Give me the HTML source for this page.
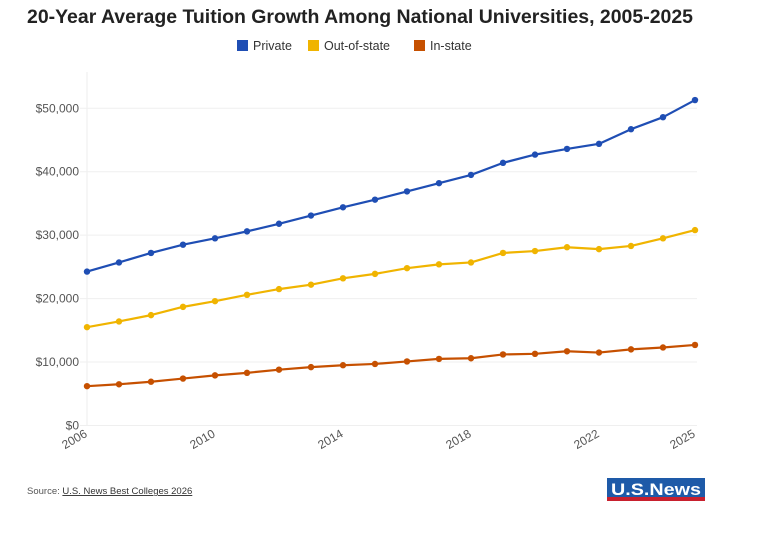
<!DOCTYPE html>
<html><head><meta charset="utf-8"><style>
body{margin:0;background:#fff;font-family:"Liberation Sans",sans-serif;}
svg text{font-family:"Liberation Sans",sans-serif;}
</style></head><body>
<svg id="chart" width="760" height="528" viewBox="0 0 760 528">
<text x="27" y="23" font-size="19" font-weight="bold" fill="#222" textLength="666" lengthAdjust="spacingAndGlyphs">20-Year Average Tuition Growth Among National Universities, 2005-2025</text>
<g>
<g><rect x="237" y="40" width="11" height="11" fill="#1f4eb4"/><text x="253" y="50" font-size="12.5" fill="#333">Private</text></g>
<g><rect x="308" y="40" width="11" height="11" fill="#f0b400"/><text x="324" y="50" font-size="12.5" fill="#333">Out-of-state</text></g>
<g><rect x="414" y="40" width="11" height="11" fill="#c65000"/><text x="430" y="50" font-size="12.5" fill="#333">In-state</text></g>
</g>
<g id="grid"></g><g id="axes"></g><g id="series"></g>
<text x="27" y="494" font-size="9.5" fill="#555">Source: <tspan text-decoration="underline" fill="#333">U.S. News Best Colleges 2026</tspan></text>
<g>
<rect x="607" y="478" width="98" height="19" fill="#1e5aa8"/><rect x="607" y="497" width="98" height="4" fill="#c8202e"/>
<text x="611" y="495" font-size="17" font-weight="bold" fill="#fff" textLength="90" lengthAdjust="spacingAndGlyphs">U.S.News</text>
</g>
</svg>
<script>
const years=[2006,2007,2008,2009,2010,2011,2012,2013,2014,2015,2016,2017,2018,2019,2020,2021,2022,2023,2024,2025];
const privateVals=[24260,25700,27200,28500,29500,30600,31800,33100,34400,35600,36900,38200,39500,41400,42700,43600,44400,46700,48600,51300];
const outStateVals=[15500,16400,17400,18700,19600,20600,21500,22200,23200,23900,24800,25400,25700,27200,27500,28100,27800,28300,29500,30800];
const inStateVals=[6200,6500,6900,7400,7900,8300,8800,9200,9500,9700,10100,10500,10600,11200,11300,11700,11500,12000,12300,12700];
const yTicks=[0,10000,20000,30000,40000,50000];
const xTickYears=[2006,2010,2014,2018,2022,2025];
const NS='http://www.w3.org/2000/svg';
function xS(y){return 87+(y-2006)*(695-87)/19;}
function yS(v){return 425.5-v*(425.5-108.3)/50000;}
function mk(t,a,p){const e=document.createElementNS(NS,t);for(const k in a)e.setAttribute(k,a[k]);p.appendChild(e);return e;}
const grid=document.getElementById('grid'),axes=document.getElementById('axes'),ser=document.getElementById('series');
const vline=mk('line',{x1:87,x2:87,y1:72,y2:426,stroke:'#eee'},grid);


yTicks.forEach(v=>{
 const l=mk('line',{x1:80,x2:697,y1:yS(v),y2:yS(v),stroke:'#efefef'},grid);
 
 
 const t=mk('text',{x:79,y:yS(v)+4,'text-anchor':'end','font-size':12,fill:'#555'},axes);
 t.textContent='$'+v.toLocaleString('en-US');
 
 
});
xTickYears.forEach(yr=>{
 const x=xS(yr)+1,y=436;
 const t=mk('text',{x:x,y:y,'text-anchor':'end','font-size':12,fill:'#555',transform:`rotate(-30 ${x} ${y})`},axes);
 t.textContent=yr;
 
 
});
[[privateVals,'#1f4eb4','private'],[outStateVals,'#f0b400','out-of-state'],[inStateVals,'#c65000','in-state']].forEach(([vals,c,n])=>{
 const g=mk('g',{},ser);
 
 
 const p=mk('polyline',{points:vals.map((v,i)=>xS(years[i])+','+yS(v)).join(' '),fill:'none',stroke:c,'stroke-width':2.2,'stroke-linejoin':'round'},g);
 
 
 vals.forEach((v,i)=>{
  const d=mk('circle',{cx:xS(years[i]),cy:yS(v),r:3.2,fill:c},g);
  
  
 });
});
</script>
</body></html>
